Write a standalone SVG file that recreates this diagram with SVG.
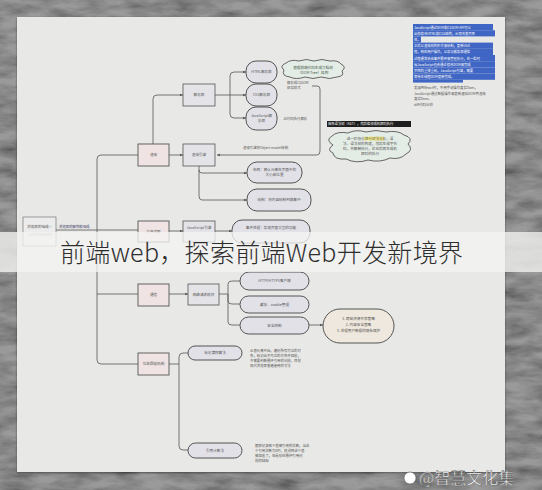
<svg xmlns="http://www.w3.org/2000/svg" width="542" height="490" viewBox="0 0 542 490">
<defs>
<filter id="stone" x="0" y="0" width="100%" height="100%">
<feTurbulence type="fractalNoise" baseFrequency="0.03 0.09" numOctaves="5" seed="7" result="n"/>
<feColorMatrix in="n" type="matrix" values="1.1 0 0 0 0.22  1.1 0 0 0 0.22  1.1 0 0 0 0.22  0 0 0 0 1" result="m"/>
<feBlend in="m" in2="SourceGraphic" mode="multiply"/>
</filter>
<filter id="shadow" x="-5%" y="-5%" width="110%" height="110%">
<feDropShadow dx="0" dy="1" stdDeviation="1.2" flood-color="#000" flood-opacity="0.45"/>
</filter>
<marker id="arr" viewBox="0 0 6 6" refX="5.5" refY="3" markerWidth="4" markerHeight="4" orient="auto">
<path d="M0,0.5 L6,3 L0,5.5 Z" fill="#555"/>
</marker>
<style>
.t{font-family:"Noto Sans CJK SC","Liberation Sans",sans-serif;fill:#555;}
.s{font-size:3.6px;text-anchor:middle;}
.sl{font-size:3.4px;}
.box{fill:#e4e3e8;stroke:#555;stroke-width:0.8;}
.main{fill:#efe3e3;stroke:#555;stroke-width:0.9;}
.pill{fill:#e2e1e8;stroke:#444;stroke-width:0.9;}
.cloud{fill:#e4ece6;stroke:#444;stroke-width:0.8;}
.ln{fill:none;stroke:#555;stroke-width:0.8;}
.la{fill:none;stroke:#555;stroke-width:0.8;marker-end:url(#arr);}
.bt{font-family:"Noto Sans CJK SC","Liberation Sans",sans-serif;font-size:3.3px;fill:#fff;}
</style>
</defs>

<rect x="0" y="0" width="542" height="490" fill="#9a9a9a" filter="url(#stone)"/>
<rect x="17" y="17" width="488" height="455" fill="#e8e8e6" filter="url(#shadow)"/>

<g id="connectors">
<path class="ln" d="M56,230 H138"/>
<path class="ln" d="M138,155 H101 Q97,155 97,159 V360 Q97,364 101,364 H138"/>
<path class="ln" d="M97,294 H138"/>
<path class="la" d="M153,144 V99 Q153,95 157,95 H183"/>
<path class="la" d="M169,155 H183"/>
<path class="ln" d="M215,95 H230"/>
<path class="la" d="M230,95 V76 Q230,72 234,72 H246"/>
<path class="la" d="M230,95 H246"/>
<path class="la" d="M230,95 V114 Q230,118 234,118 H246"/>
<path class="la" d="M312,86 H317 Q320,86 320,89 V151 Q320,155 317,155 H217"/>
<path class="la" d="M199,166 V170 Q199,173 202,173 H247"/>
<path class="la" d="M199,170 V196 Q199,200 202,200 H247"/>
<path class="la" d="M169,231 H183"/>
<path class="la" d="M215,231 H232"/>
<path class="la" d="M169,294 H188"/>
<path class="ln" d="M219,294 H228"/>
<path class="ln" d="M228,294 V284 Q228,281 232,281 H240"/>
<path class="ln" d="M228,294 V301 Q228,304 232,304 H240"/>
<path class="ln" d="M228,294 V322 Q228,325 232,325 H240"/>
<path class="la" d="M309,325 H323"/>
<path class="ln" d="M169,364 H179"/>
<path class="ln" d="M179,364 V357 Q179,353 183,353 H188"/>
<path class="ln" d="M179,364 V446 Q179,450 183,450 H188"/>
</g>

<g id="root">
<rect x="23" y="217" width="33" height="29" fill="#ececec" stroke="#777" stroke-width="0.7"/>
<text class="t s" x="39.5" y="228">浏览器的组成—</text>
<text class="t s" x="39.5" y="236" style="fill:#9a9a9a">了解浏览器架构</text>
<text class="t sl" x="59" y="228" style="fill:#3a3a6a">浏览器的架构和组成</text>
</g>

<g id="n-render"><rect class="main" x="138" y="144" width="31" height="22"/><text class="t s" x="153.5" y="156.3">渲染</text></g>
<g id="n-file"><rect class="main" x="138" y="221" width="31" height="21"/><text class="t s" x="153.5" y="232.5">文件读取</text></g>
<g id="n-comm"><rect class="main" x="138" y="284" width="31" height="22"/><text class="t s" x="153.5" y="296.3">通信</text></g>
<g id="n-gc"><rect class="main" x="138" y="353" width="31" height="22"/><text class="t s" x="153.5" y="365.3">垃圾回收机制</text></g>

<g id="n-parser"><rect class="box" x="183" y="84" width="32" height="22"/><text class="t s" x="199" y="96.3">解析器</text></g>
<g id="n-engine"><rect class="box" x="183" y="144" width="32" height="22"/><text class="t s" x="199" y="156.3">渲染引擎</text></g>
<g id="n-jsengine"><rect class="box" x="183" y="221" width="32" height="21"/><text class="t s" x="199" y="229">JavaScript引擎</text></g>
<g id="n-net"><rect class="box" x="188" y="284" width="31" height="21"/><text class="t s" x="203.5" y="295.8">网络请求模块</text></g>

<g id="n-html"><rect class="pill" x="246" y="61" width="31" height="22" rx="10"/><text class="t s" x="261.5" y="73.3">HTML解析器</text></g>
<g id="n-css"><rect class="pill" x="246" y="84" width="31" height="22" rx="10"/><text class="t s" x="261.5" y="96.3">CSS解析器</text></g>
<g id="n-js"><rect class="pill" x="246" y="107" width="31" height="23" rx="10"/><text class="t s" x="261.5" y="117">JavaScript解</text><text class="t s" x="261.5" y="122">析器</text></g>

<g id="cloud1">
<path class="cloud" d="M284,70 Q279,66 286,63 Q291,59 299,61 Q306,58 314,61 Q322,58 330,61 Q338,60 341,64 Q347,67 342,71 Q345,76 337,77 Q330,80 321,77 Q313,80 305,77 Q296,80 290,77 Q281,76 284,70 Z"/>
<text class="t s" x="313" y="68.5" style="fill:#3f5a4a">根据前端代码生成文档树</text>
<text class="t s" x="313" y="73.5" style="fill:#3f5a4a">（DOM Tree）结构</text>
</g>
<g id="note-css">
<text class="t sl" x="287" y="84">解析成CSSOM</text>
<text class="t sl" x="287" y="89">树及样式</text>
</g>
<g id="note-js"><text class="t sl" x="283" y="119.5">JS代码执行解析</text></g>
<g id="note-draw"><text class="t sl" x="243" y="148.5">渲染引擎将Object model绘制</text></g>

<g id="ast-label">
<rect x="327" y="121" width="84" height="6" fill="#1e1e1e"/>
<text class="bt" x="328" y="125.3">抽象语法树（AST），然后编译成机器码执行</text>
</g>
<g id="cloud2">
<path class="cloud" d="M333,145 Q325,140 332,136 Q337,131 348,133 Q356,129 366,132 Q376,129 386,132 Q398,130 404,135 Q414,138 408,144 Q414,150 406,154 Q400,160 390,158 Q380,163 368,160 Q356,164 346,159 Q334,160 333,153 Q326,150 333,145 Z"/>
<rect x="364" y="136.6" width="20" height="4" fill="#f1e98a"/>
<text class="t s" x="370" y="140">这一阶段会进行词法分析，语</text>
<text class="t s" x="370" y="145">法、语法树的构建，然后生成字节</text>
<text class="t s" x="370" y="150">码，并解释执行，优化后再生成机</text>
<text class="t s" x="370" y="155">器码的执行</text>
</g>

<g id="blue-note">
<rect x="413" y="24" width="80" height="6.2" fill="#3f66c4"/>
<rect x="413" y="30.2" width="82" height="6.2" fill="#3f66c4"/>
<rect x="413" y="36.4" width="8" height="6.2" fill="#3f66c4"/>
<rect x="413" y="42.6" width="80" height="6.2" fill="#3f66c4"/>
<rect x="413" y="48.8" width="80" height="6.2" fill="#3f66c4"/>
<rect x="413" y="55" width="82" height="6.2" fill="#3f66c4"/>
<rect x="413" y="61.2" width="82" height="6.2" fill="#3f66c4"/>
<rect x="413" y="67.4" width="82" height="6.2" fill="#3f66c4"/>
<rect x="413" y="73.6" width="82" height="6.2" fill="#3f66c4"/>
<rect x="413" y="79.8" width="50" height="2.8" fill="#3f66c4"/>
<text class="bt" x="414" y="28.6">JavaScript通过DOM和CSSOM API可以</text>
<text class="bt" x="414" y="34.8">动态修改HTML和CSS结构，从而改变页面</text>
<text class="bt" x="414" y="41">性。</text>
<text class="bt" x="414" y="47.2">之后以渲染树的形式来绘制，更新UI过</text>
<text class="bt" x="414" y="53.4">程，响应用户操作，以及与服务器通信</text>
<text class="bt" x="414" y="59.6">过程通常会由事件循环来管理执行，在一些时</text>
<text class="bt" x="414" y="65.8">候JavaScript也会通过修改DOM来完成</text>
<text class="bt" x="414" y="72">页面的重排重绘，JavaScript引擎，需要</text>
<text class="bt" x="414" y="78.2">等待主线程DOM更新完成。</text>
</g>
<g id="gray-note">
<text class="t sl" x="414" y="89">发展到React时，不用手动操作真实Dom，</text>
<text class="t sl" x="414" y="94.5">JavaScript通过数据操作来更新虚拟DOM再渲染</text>
<text class="t sl" x="414" y="100">真实Dom。</text>
<text class="t sl" x="414" y="105.5">diff代码比较</text>
</g>

<g id="n-layout"><rect class="pill" x="247" y="162" width="55" height="21" rx="10"/><text class="t s" x="274.5" y="171">布局：确认元素在页面中的</text><text class="t s" x="274.5" y="176">大小和位置</text></g>
<g id="n-paint"><rect class="pill" x="247" y="189" width="64" height="22" rx="10"/><text class="t s" x="279" y="201.3">绘制：将内容绘制到屏幕中</text></g>
<g id="n-event"><rect class="pill" x="232" y="220" width="78" height="23" rx="10"/><text class="t s" x="271" y="229">事件处理：实现页面交互的功能</text></g>

<g id="n-http"><rect class="pill" x="240" y="272" width="69" height="18" rx="9"/><text class="t s" x="274.5" y="282.3">HTTP/HTTPS客户端</text></g>
<g id="n-cache"><rect class="pill" x="240" y="296" width="69" height="17" rx="8.5"/><text class="t s" x="274.5" y="305.8">缓存、cookie管理</text></g>
<g id="n-sec"><rect class="pill" x="240" y="317" width="69" height="17" rx="8.5"/><text class="t s" x="274.5" y="326.8">安全控制</text></g>
<g id="n-secnote"><rect x="323" y="309" width="71" height="34" rx="17" fill="#efe8de" stroke="#444" stroke-width="0.9"/><text class="t s" x="358.5" y="320">1. 跨域资源共享策略</text><text class="t s" x="358.5" y="326">2. 内容安全策略</text><text class="t s" x="358.5" y="332">3. 处理用户数据的隐私保护</text></g>

<g id="n-mark"><rect class="pill" x="188" y="346" width="54" height="14" rx="7"/><text class="t s" x="215" y="354.3">标记清除算法</text></g>
<g id="n-mark-note">
<text class="t sl" x="250" y="352">从根元素开始，遍历所有可达的对</text>
<text class="t sl" x="250" y="357">象，标记出不可达的对象并回收，</text>
<text class="t sl" x="250" y="362">不需要判断循环引用的问题，目前</text>
<text class="t sl" x="250" y="367">现代浏览器普遍使用的方法</text>
</g>
<g id="n-ref"><rect class="pill" x="188" y="443" width="54" height="15" rx="7.5"/><text class="t s" x="215" y="451.8">引用计数法</text></g>
<g id="n-ref-note">
<text class="t sl" x="255" y="447">跟踪记录每个值被引用的次数，当这</text>
<text class="t sl" x="255" y="452">个引用次数为0时，就说明这个值</text>
<text class="t sl" x="255" y="457">被回收了，但是存在循环引用问</text>
<text class="t sl" x="255" y="462">题的缺陷</text>
</g>

<g id="banner">
<rect x="0" y="232" width="542" height="40" fill="#f4f4f2" fill-opacity="0.78"/>
<text x="60" y="262" textLength="403" style="font-family:'Noto Sans CJK SC','Noto Sans',sans-serif;font-size:25px;font-weight:300;fill:#2e2e2e">前端web，探索前端Web开发新境界</text>
</g>

<g id="watermark">
<circle cx="410" cy="478" r="6" fill="#fff" stroke="#555" stroke-width="0.6"/>
<text x="419" y="484" style="font-family:'Noto Sans CJK SC',sans-serif;font-size:16px;fill:#fff;stroke:#555;stroke-width:0.4">@智慧文化集</text>
</g>
</svg>
